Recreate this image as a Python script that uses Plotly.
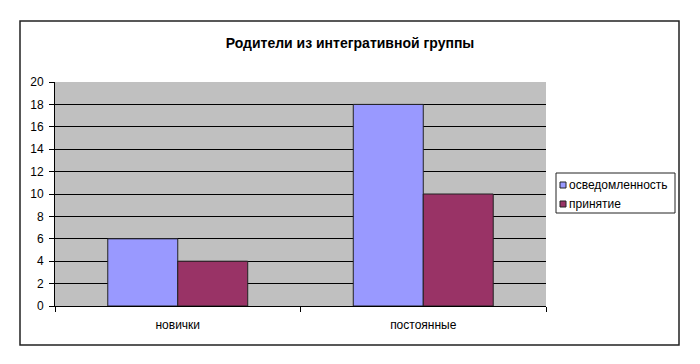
import plotly.graph_objects as go

categories = ["новички", "постоянные"]
series_names = ["осведомленность", "принятие"]
awareness = [6, 18]
acceptance = [4, 10]
y_ticks = [0, 2, 4, 6, 8, 10, 12, 14, 16, 18, 20]
title_text = "Родители из интегративной группы"
colors = ["#9999FF", "#993366"]

# page body has an 8px margin; figure sized/offset to compensate
OFF = 8
W, H = 700 - OFF, 364 - OFF
# reference-pixel plot area
PL, PR, PT, PB = 55, 546, 82, 306
L, R, T, B = PL - OFF, W - (PR - OFF), PT - OFF, H - (PB - OFF)
pw, ph = PR - PL, PB - PT


def px(x):
    return (x - PL) / pw


def py(y):
    return (PB - y) / ph


fig = go.Figure()
for name, vals, col in zip(series_names, [awareness, acceptance], colors):
    fig.add_trace(go.Bar(x=categories, y=vals, name=name, showlegend=False,
                         marker=dict(color=col, line=dict(color="#222222", width=1))))

shapes = [
    dict(type="rect", xref="paper", yref="paper",
         x0=px(20), x1=px(679), y0=py(345), y1=py(21),
         line=dict(color="#222222", width=1.5), fillcolor="rgba(0,0,0,0)", layer="below"),
    dict(type="rect", xref="paper", yref="paper",
         x0=px(556), x1=px(675), y0=py(213), y1=py(173),
         line=dict(color="#222222", width=1), fillcolor="white", layer="below"),
]
annotations = []
for i, (name, col) in enumerate(zip(series_names, colors)):
    yc = 185 + i * 19
    shapes.append(dict(type="rect", xref="paper", yref="paper",
                       x0=px(560), x1=px(566), y0=py(yc + 3), y1=py(yc - 3),
                       line=dict(color="#222222", width=1), fillcolor=col))
    annotations.append(dict(text=name, xref="paper", yref="paper",
                            x=px(567), y=py(yc), xanchor="left", yanchor="middle",
                            showarrow=False, font=dict(size=12, color="black")))

fig.update_layout(
    width=W, height=H,
    margin=dict(l=L, r=R, t=T, b=B, autoexpand=False),
    paper_bgcolor="white",
    plot_bgcolor="#C0C0C0",
    barmode="group",
    bargap=0.43,
    bargroupgap=0,
    showlegend=False,
    font=dict(family="Liberation Sans, Arial, sans-serif", size=12, color="black"),
    title=dict(text="<b>" + title_text + "</b>", x=px(350), xref="paper", xanchor="center",
               y=1 - (43 - OFF) / H, yanchor="middle", font=dict(size=14, color="black")),
    xaxis=dict(showgrid=False, showline=True, linecolor="black", linewidth=1,
               ticks="outside", tickson="boundaries", ticklen=5, tickcolor="black",
               ticklabelstandoff=8, mirror=False),
    yaxis=dict(range=[0, 20], tickvals=y_ticks, showgrid=True, gridcolor="black",
               gridwidth=1, showline=True, linecolor="black", linewidth=1,
               ticks="outside", ticklen=5, tickcolor="black", zeroline=False,
               ticklabelstandoff=3),
    shapes=shapes,
    annotations=annotations,
)

fig.write_html("out.html")
